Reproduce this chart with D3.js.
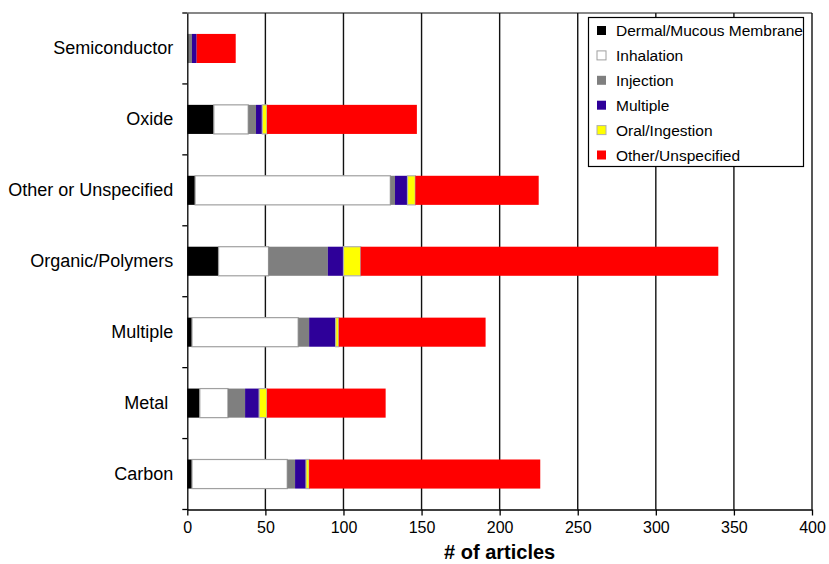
<!DOCTYPE html>
<html>
<head>
<meta charset="utf-8">
<script src="https://cdn.jsdelivr.net/npm/d3@7"></script>
<style>
  html, body { margin: 0; padding: 0; background: #fff; }
  svg { display: block; font-family: "Liberation Sans", Arial, Helvetica, sans-serif; }
</style>
</head>
<body>
<svg id="chart" width="829" height="564"></svg>
<script>
// ---- data ----
const categories = ["Semiconductor", "Oxide", "Other or Unspecified", "Organic/Polymers", "Multiple", "Metal ", "Carbon"];
const seriesNames = ["Dermal/Mucous Membrane", "Inhalation", "Injection", "Multiple", "Oral/Ingestion", "Other/Unspecified"];
const dermal     = [0, 17, 5, 20, 3, 8, 3];
const inhalation = [0, 22, 125, 32, 68, 18, 61];
const injection  = [3, 5, 3, 38, 7, 11, 5];
const multiple   = [3, 4, 8, 10, 17, 9, 7];
const oral       = [0, 3, 5, 11, 2, 5, 2];
const other      = [25, 96, 79, 229, 94, 76, 148];
const xTicks = [0, 50, 100, 150, 200, 250, 300, 350, 400];
const xTitle = "# of articles";

const colors = ["#000000", "#ffffff", "#7f7f7f", "#2e0099", "#ffff00", "#ff0000"];
const strokes = [null, "#a0a0a0", null, null, "#b0b0b0", null];

// ---- build table ----
const seriesArrays = [dermal, inhalation, injection, multiple, oral, other];
const rows = categories.map((c, i) => {
  const r = { cat: c };
  seriesNames.forEach((s, j) => r[s] = seriesArrays[j][i]);
  return r;
});
const stacked = d3.stack().keys(seriesNames)(rows);

const svg = d3.select("#chart");
const pL = 187.3, pR = 812, pT = 13, pB = 509.5;

const x = d3.scaleLinear().domain([0, 400]).range([pL, pR]);
const y = d3.scaleBand().domain(categories).range([pT, pB]).paddingInner(0.59).paddingOuter(0.295);

// gridlines
svg.append("g").selectAll("line").data(xTicks.filter(d => d > 0)).join("line")
  .attr("x1", d => x(d)).attr("x2", d => x(d))
  .attr("y1", pT).attr("y2", pB)
  .attr("stroke", "#111").attr("stroke-width", 1.4);

// top frame
svg.append("line").attr("x1", x(0)).attr("x2", x(400)).attr("y1", pT).attr("y2", pT)
  .attr("stroke", "#111").attr("stroke-width", 1.2);

// bars
svg.append("g").selectAll("g").data(stacked).join("g")
  .attr("fill", (d, i) => colors[i])
  .each(function(layer, i) {
    d3.select(this).selectAll("rect").data(layer).join("rect")
      .attr("x", d => x(d[0]))
      .attr("width", d => Math.max(0, x(d[1]) - x(d[0])))
      .attr("y", d => y(d.data.cat))
      .attr("height", y.bandwidth())
      .attr("stroke", strokes[i] || "none")
      .attr("stroke-width", strokes[i] ? 1.2 : 0);
  });

// x axis
const xAxis = svg.append("g").attr("transform", `translate(0,${pB})`)
  .call(d3.axisBottom(x).tickValues(xTicks).tickSize(6).tickSizeOuter(0).tickPadding(6));
xAxis.selectAll("path,line").attr("stroke", "#000").attr("stroke-width", 1.3);
xAxis.selectAll("text").attr("font-size", "16px").attr("fill", "#000")
  .attr("font-family", "Liberation Sans, Arial, sans-serif");

// y axis
const yAxis = svg.append("g").attr("transform", `translate(${pL},0)`)
  .call(d3.axisLeft(y).tickSize(0).tickPadding(14).tickSizeOuter(0));
yAxis.select("path").attr("stroke", "#000").attr("stroke-width", 1.3);
yAxis.selectAll("text").attr("font-size", "18px").attr("fill", "#000")
  .style("white-space", "pre")
  .attr("font-family", "Liberation Sans, Arial, sans-serif");

// y boundary ticks
const bounds = d3.range(categories.length + 1).map(i => pT + i * y.step());
svg.append("g").selectAll("line").data(bounds).join("line")
  .attr("x1", pL - 5).attr("x2", pL)
  .attr("y1", d => d).attr("y2", d => d)
  .attr("stroke", "#000").attr("stroke-width", 1.3);

// x title
svg.append("text").attr("x", (pL + pR) / 2).attr("y", 559)
  .attr("text-anchor", "middle").attr("font-size", "20px").attr("font-weight", "bold")
  .text(xTitle);

// legend
const lg = svg.append("g");
lg.append("rect").attr("x", 588.5).attr("y", 17.5).attr("width", 215).attr("height", 149)
  .attr("fill", "#fff").attr("stroke", "#000").attr("stroke-width", 1.2);
const items = lg.selectAll("g.item").data(seriesNames).join("g").attr("class", "item")
  .attr("transform", (d, i) => `translate(597,${30.5 + i * 24.9})`);
items.append("rect").attr("x", 0).attr("y", -4.5).attr("width", 9).attr("height", 9)
  .attr("fill", (d, i) => colors[i])
  .attr("stroke", (d, i) => strokes[i] || "none").attr("stroke-width", 1);
items.append("text").attr("x", 19).attr("y", 5.5).attr("font-size", "15.5px")
  .attr("fill", "#000").text(d => d);
</script>
</body>
</html>
